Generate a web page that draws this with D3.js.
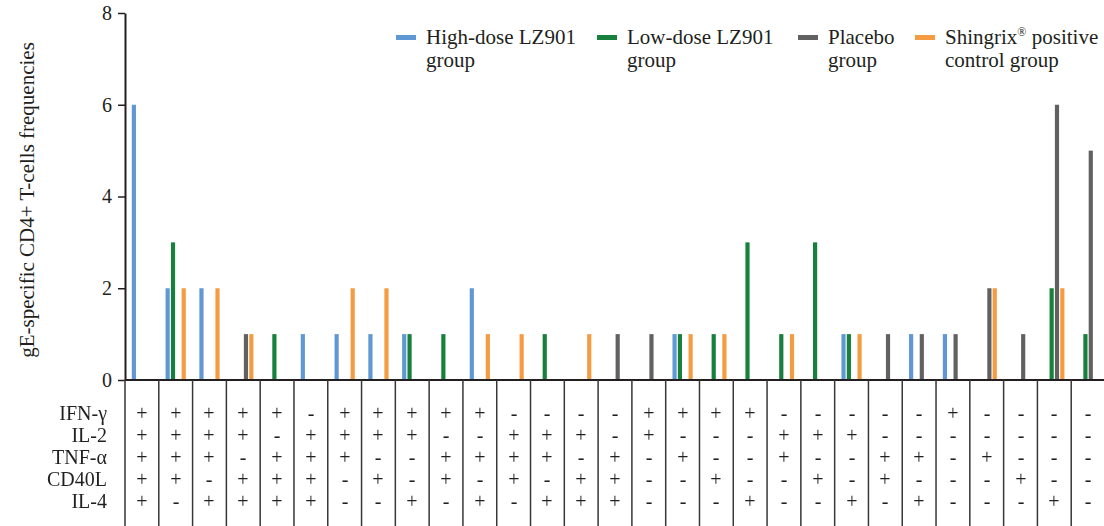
<!DOCTYPE html>
<html>
<head>
<meta charset="utf-8">
<script src="https://cdn.jsdelivr.net/npm/d3@7"></script>
<style>
  html, body { margin: 0; padding: 0; background: #fff; }
  svg { display: block; }
  text { font-family: "Liberation Serif", "Times New Roman", serif; fill: #231f20; }
</style>
</head>
<body>
<svg id="chart" width="1104" height="526"></svg>
<script>
// ---- data ----
const combos = d3.range(1, 30).map(String);
const seriesNames = ["High-dose LZ901 group", "Low-dose LZ901 group", "Placebo group", "Shingrix® positive control group"];
const highDose = [6,2,2,0,0,1,1,1,1,0,2,0,0,0,0,0,1,0,0,0,0,1,0,1,1,0,0,0,0];
const lowDose  = [0,3,0,0,1,0,0,0,1,1,0,0,1,0,0,0,1,1,3,1,3,1,0,0,0,0,0,2,1];
const placebo  = [0,0,0,1,0,0,0,0,0,0,0,0,0,0,1,1,0,0,0,0,0,0,1,1,1,2,1,6,5];
const shingrix = [0,2,2,1,0,0,2,2,0,0,1,1,0,1,0,0,1,1,0,1,0,1,0,0,0,2,0,2,0];
const yTicks = [0, 2, 4, 6, 8];
const cytokines = ["IFN-γ", "IL-2", "TNF-α", "CD40L", "IL-4"];
const tableIFN   = "+++++-+++++----++++-----+----";
const tableIL2   = "++++-++++--+++-+---+++-------";
const tableTNF   = "+++-+++--++++-+-+--+--++-+---";
const tableCD40L = "++-+++-+-+-+-++--+--+-+---+--";
const tableIL4   = "+-++++--+-+-+++---+--+-+---+-";

// ---- layout ----
const colors = ["#6098d3", "#16803c", "#616161", "#f59b42"];
const svg = d3.select("#chart");
const left = 125, right = 1105, yTop = 13, yBase = 380;
const seriesData = [highDose, lowDose, placebo, shingrix];

const defs = svg.append("defs");
const flt = defs.append("filter").attr("id", "mono")
  .attr("x", 0).attr("y", 0).attr("width", 1).attr("height", 1)
  .attr("filterUnits", "userSpaceOnUse");
flt.attr("x", 0).attr("y", 0).attr("width", 1104).attr("height", 526);
flt.append("feColorMatrix").attr("type", "saturate").attr("values", 0);

const x = d3.scaleBand().domain(combos).range([left, right]).paddingInner(0.37).paddingOuter(0.185);
const xs = d3.scaleBand().domain(d3.range(4)).range([0, x.bandwidth()]).paddingInner(0.22).paddingOuter(0.1);
const y = d3.scaleLinear().domain([0, 8]).range([yBase, yTop]);
const step = x.step();

// bars
seriesData.forEach((vals, si) => {
  svg.append("g").selectAll("rect")
    .data(vals.map((v, i) => ({c: combos[i], v})).filter(d => d.v > 0))
    .join("rect")
    .attr("x", d => x(d.c) + xs(si))
    .attr("width", xs.bandwidth())
    .attr("y", d => y(d.v))
    .attr("height", d => y(0) - y(d.v))
    .attr("fill", colors[si]);
});

// y axis
const yAxis = svg.append("g").attr("transform", `translate(${left},0)`)
  .call(d3.axisLeft(y).tickValues(yTicks).tickSize(7).tickSizeOuter(0).tickPadding(6));
yAxis.select(".domain").attr("stroke", "#231f20").attr("stroke-width", 2);
yAxis.selectAll(".tick line").attr("stroke", "#231f20").attr("stroke-width", 1.5);
yAxis.selectAll(".tick text").style("font-size", "20px")
  .style("font-family", '"Liberation Serif", "Times New Roman", serif').attr("fill", "#231f20");

// x baseline
svg.append("line").attr("x1", left).attr("x2", 1104).attr("y1", yBase).attr("y2", yBase)
  .attr("stroke", "#231f20").attr("stroke-width", 2);

// column separators
svg.append("g").selectAll("line")
  .data(d3.range(combos.length + 1))
  .join("line")
  .attr("x1", i => left + i * step).attr("x2", i => left + i * step)
  .attr("y1", yBase).attr("y2", 526)
  .attr("stroke", "#3a3536").attr("stroke-width", 1.5);

// y label
svg.append("text")
  .attr("transform", "translate(27,200) rotate(-90)")
  .attr("text-anchor", "middle").attr("dy", "0.35em")
  .style("font-size", "21px")
  .text("gE-specific CD4+ T-cells frequencies");

// table
const rows = d3.scalePoint().domain(cytokines).range([413, 501]);
const tableRows = [tableIFN, tableIL2, tableTNF, tableCD40L, tableIL4];
const table = svg.append("g").attr("filter", "url(#mono)");
table.append("g").selectAll("text")
  .data(cytokines).join("text")
  .attr("x", 107).attr("y", d => rows(d)).attr("dy", "0.35em")
  .attr("text-anchor", "end").style("font-size", "20px")
  .text(d => d);
tableRows.forEach((row, ri) => {
  table.append("g").selectAll("text")
    .data(row.split("").map((s, i) => ({s, c: combos[i]})))
    .join("text")
    .attr("x", d => Math.round(x(d.c) + x.bandwidth() / 2))
    .attr("y", Math.round(rows(cytokines[ri]) + 7))
    .attr("text-anchor", "middle").style("font-size", "20px")
    .text(d => d.s);
});

// legend
const legendX = [396, 597, 798, 915];
const legendLines = [["High-dose LZ901", "group"], ["Low-dose LZ901", "group"], ["Placebo", "group"], ["Shingrix", "control group"]];
legendLines.forEach((lines, i) => {
  const g = svg.append("g").attr("transform", `translate(${legendX[i]},0)`);
  g.append("rect").attr("x", 0).attr("y", 35).attr("width", 20).attr("height", 5).attr("fill", colors[i]);
  const t1 = g.append("text").attr("x", 30).attr("y", 44).style("font-size", "21px").text(lines[0]);
  if (i === 3) {
    t1.append("tspan").attr("dy", -8).style("font-size", "12px").text("®");
    t1.append("tspan").attr("dy", 8).text(" positive");
  }
  g.append("text").attr("x", 30).attr("y", 67).style("font-size", "21px").text(lines[1]);
});
</script>
</body>
</html>
